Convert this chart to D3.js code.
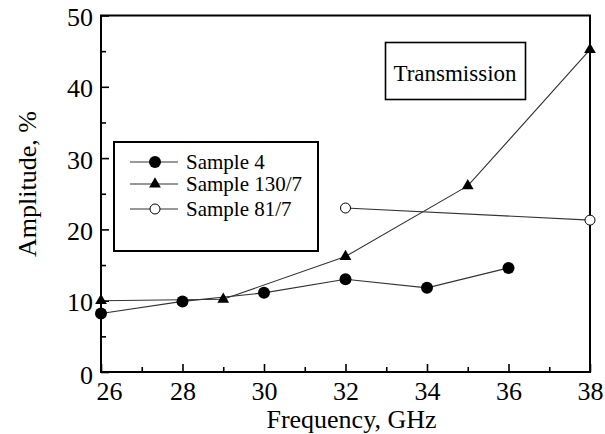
<!DOCTYPE html>
<html>
<head>
<meta charset="utf-8">
<script src="https://cdn.jsdelivr.net/npm/d3@7"></script>
</head>
<body style="margin:0">
<script>
// values
const freq4 = [26, 28, 30, 32, 34, 36];
const amp4 = [8.2, 9.9, 11.1, 13.0, 11.8, 14.6];
const freq130 = [26, 29, 32, 35, 38];
const amp130 = [10.0, 10.2, 16.2, 26.1, 45.2];
const freq81 = [32, 38];
const amp81 = [23.0, 21.3];
const seriesNames = ['Sample 4', 'Sample 130/7', 'Sample 81/7'];
const xTicks = [26, 28, 30, 32, 34, 36, 38];
const yTicks = [0, 10, 20, 30, 40, 50];

const WIDTH = 605;
const HEIGHT = 434;
const LEFT = 101, RIGHT = 590, TOP = 15.5, BOTTOM = 372;
const FONT = 'Liberation Serif';

let svg = d3.select('body').append('svg')
  .attr('width', WIDTH)
  .attr('height', HEIGHT)
  .attr('font-family', FONT);

let xScale = d3.scaleLinear().domain([26, 38]).range([LEFT, RIGHT]);
let yScale = d3.scaleLinear().domain([0, 50]).range([BOTTOM, TOP]);

// minor ticks (inside)
let xAxisMinor = d3.axisTop(xScale).tickValues(d3.range(27, 38, 2)).tickSize(5).tickFormat('');
let yAxisMinor = d3.axisRight(yScale).tickValues(d3.range(5, 50, 10)).tickSize(5).tickFormat('');
svg.append('g').attr('transform', `translate(0,${BOTTOM})`).call(xAxisMinor);
svg.append('g').attr('transform', `translate(${LEFT},0)`).call(yAxisMinor);

// major ticks (inside) + labels
let xAxis = d3.axisTop(xScale).tickValues(xTicks).tickSize(8).tickFormat(d3.format('d'));
let gx = svg.append('g').attr('transform', `translate(0,${BOTTOM})`).call(xAxis);
gx.selectAll('text')
  .attr('y', 28).attr('dy', 0)
  .attr('dx', (d) => d === 26 ? 8 : 0);

let yAxis = d3.axisRight(yScale).tickValues(yTicks).tickSize(8).tickFormat(d3.format('d'));
let gy = svg.append('g').attr('transform', `translate(${LEFT},0)`).call(yAxis);
gy.selectAll('text')
  .attr('x', -8).attr('dy', (d) => d === 0 ? 11 : 10)
  .attr('text-anchor', 'end');

// axis() puts sans-serif on its group, take it back off
svg.selectAll('g').attr('font-family', null).attr('font-size', 26);
svg.selectAll('.tick text').attr('fill', '#000').attr('font-family', FONT);

svg.selectAll('.domain').remove();
svg.selectAll('.tick line').attr('stroke', '#000').attr('stroke-width', 1.6);

// frame
svg.append('rect')
  .attr('x', LEFT).attr('y', TOP)
  .attr('width', RIGHT - LEFT).attr('height', BOTTOM - TOP)
  .attr('fill', 'none').attr('stroke', '#000').attr('stroke-width', 2);

// axis titles
svg.append('text')
  .attr('x', (LEFT + RIGHT) / 2 + 6).attr('y', 428)
  .attr('text-anchor', 'middle')
  .attr('font-family', FONT)
  .attr('font-size', 26)
  .text('Frequency, GHz');

svg.append('text')
  .attr('transform', 'translate(36,184) rotate(-90)')
  .attr('text-anchor', 'middle')
  .attr('font-family', FONT)
  .attr('font-size', 26)
  .text('Amplitude, %');

let line = d3.line().x((d) => xScale(d[0])).y((d) => yScale(d[1]));

let s4 = d3.zip(freq4, amp4);
let s130 = d3.zip(freq130, amp130);
let s81 = d3.zip(freq81, amp81);

svg.append('path').datum(s130).attr('d', line)
  .attr('fill', 'none').attr('stroke', '#333').attr('stroke-width', 1.1);
svg.append('path').datum(s81).attr('d', line)
  .attr('fill', 'none').attr('stroke', '#333').attr('stroke-width', 1.1);
svg.append('path').datum(s4).attr('d', line)
  .attr('fill', 'none').attr('stroke', '#333').attr('stroke-width', 1.1);

let tri = d3.symbol().type(d3.symbolTriangle).size(60);

svg.selectAll('.pt4').data(s4).enter().append('circle')
  .attr('cx', (d) => xScale(d[0])).attr('cy', (d) => yScale(d[1]))
  .attr('r', 6).attr('fill', '#000');

svg.selectAll('.pt130').data(s130).enter().append('path')
  .attr('d', tri)
  .attr('transform', (d) => `translate(${xScale(d[0])},${yScale(d[1])})`)
  .attr('fill', '#000');

svg.selectAll('.pt81').data(s81).enter().append('circle')
  .attr('cx', (d) => xScale(d[0])).attr('cy', (d) => yScale(d[1]))
  .attr('r', 5).attr('fill', '#fff').attr('stroke', '#000').attr('stroke-width', 1);

// legend
svg.append('rect')
  .attr('x', 114).attr('y', 142).attr('width', 204).attr('height', 109)
  .attr('fill', '#fff').attr('stroke', '#000').attr('stroke-width', 2);

const legendY = [162, 184, 209];
seriesNames.forEach((name, i) => {
  let y = legendY[i];
  svg.append('line')
    .attr('x1', 130).attr('x2', 178).attr('y1', y).attr('y2', y)
    .attr('stroke', '#333').attr('stroke-width', 1.1);
  if (i === 0) {
    svg.append('circle').attr('cx', 155).attr('cy', y).attr('r', 6).attr('fill', '#000');
  } else if (i === 1) {
    svg.append('path').attr('d', tri).attr('transform', `translate(155,${y})`).attr('fill', '#000');
  } else {
    svg.append('circle').attr('cx', 155).attr('cy', y).attr('r', 5)
      .attr('fill', '#fff').attr('stroke', '#000');
  }
  svg.append('text')
    .attr('x', 186).attr('y', y + 7)
    .attr('font-family', FONT)
    .attr('font-size', 21)
    .text(name);
});

// Transmission label box
svg.append('rect')
  .attr('x', 385.5).attr('y', 42.5).attr('width', 140).attr('height', 57)
  .attr('fill', '#fff').attr('stroke', '#000').attr('stroke-width', 1.6);
svg.append('text')
  .attr('x', 455).attr('y', 81)
  .attr('text-anchor', 'middle')
  .attr('font-family', FONT)
  .attr('font-size', 23)
  .text('Transmission');
</script>
</body>
</html>
